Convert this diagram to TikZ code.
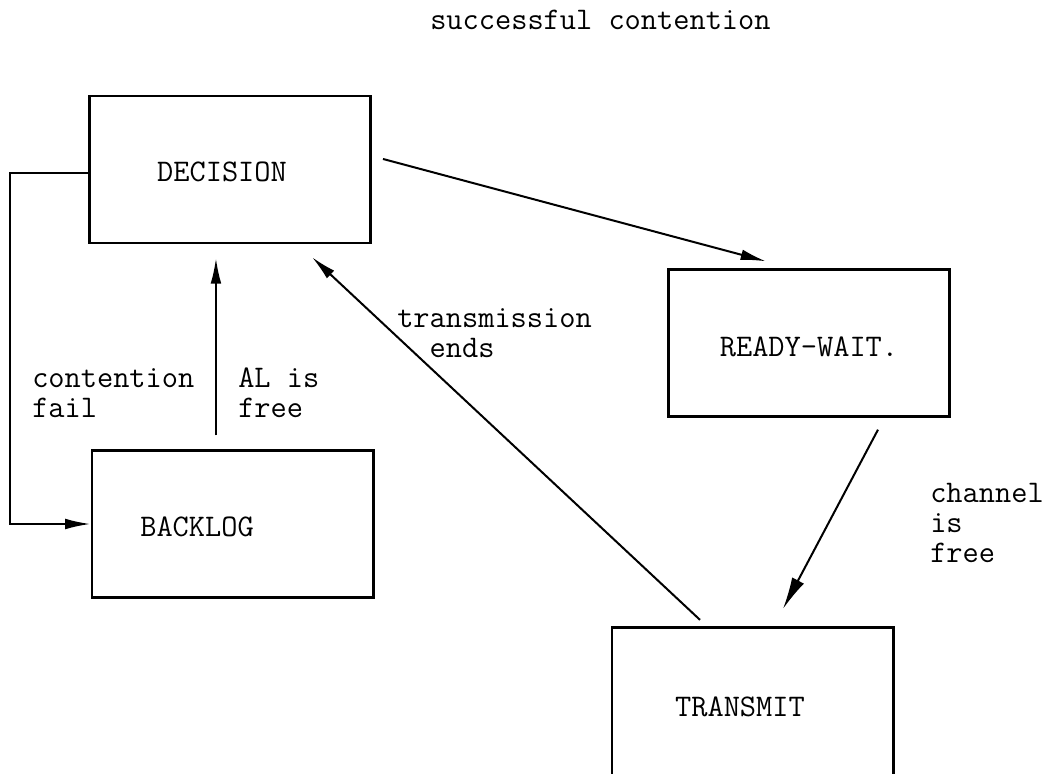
\documentclass[tikz,border=0pt]{standalone}
\usetikzlibrary{arrows.meta}
\newcommand{\mylines}[1]{\begin{tabular}[t]{@{}l@{}}#1\end{tabular}}
\begin{document}
\begin{tikzpicture}[x=0.75pt,y=-0.75pt,
  every node/.style={font=\ttfamily\fontsize{23.6}{22.5}\selectfont},
  box/.style={draw,line width=2pt,inner sep=0pt,minimum width=211pt,minimum height=110pt},
  conn/.style={line width=1.5pt,-{Latex[length=19pt,width=8pt]}},
  lbl/.style={anchor=base west,inner sep=0pt}]
\clip (0,0) rectangle (1051,774);
\fill[white] (0,0) rectangle (1051,774);
% states
\node[box,label={[xshift=-6pt,yshift=-1.9pt]center:DECISION}] (d) at (230,169.5) {};
\node[box,label={[xshift=-26.6pt,yshift=-2.25pt]center:BACKLOG}] (b) at (232.5,524) {};
\node[box,label={[yshift=-3pt]center:READY-WAIT.}] (r) at (809,343) {};
\node[box,minimum height=122pt,label={[xshift=-9.4pt,yshift=1.1pt]center:TRANSMIT}] (t) at (752.5,708.5) {};
% transitions
\draw[conn] ([yshift=-2.6pt]d.west) -- ++(-78,0) |- (b.west);
\draw[conn,shorten <=10.5pt,shorten >=10.5pt] ([xshift=-12.4pt]b.north) -- ([xshift=-12.4pt]b.north |- d.south);
\draw[conn] ([xshift=-39.4pt,yshift=4.5pt]t.north) -- ([xshift=61.5pt,yshift=-9.75pt]d.south);
\draw[conn] ([xshift=8.25pt,yshift=7.9pt]d.east) -- ([xshift=74.25pt,yshift=5.25pt]r.north west);
\draw[conn,-{Latex[length=24pt,width=10pt]}] ([xshift=51.75pt,yshift=-9pt]r.south) -- ([xshift=22.9pt,yshift=12.75pt]t.north);
% labels
\node[lbl] (ls) at (430,30) {successful contention};
\node[lbl] (lf) at (32,387) {\mylines{contention\\fail}};
\node[lbl] (la) at (238,387) {\mylines{AL is\\free}};
\node[lbl] (lt) at (397,327) {\mylines{transmission\\\phantom{tr}ends}};
\node[lbl] (lc) at (930,502) {\mylines{channel\\is\\free}};
\end{tikzpicture}
\end{document}
